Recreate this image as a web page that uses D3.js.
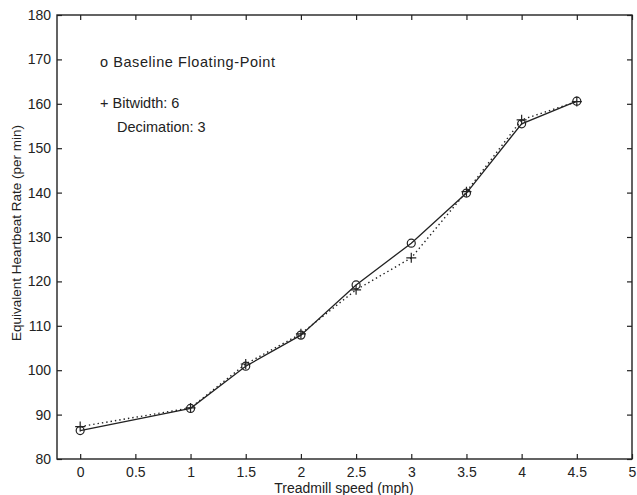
<!DOCTYPE html>
<html>
<head>
<meta charset="utf-8">
<script src="https://cdn.jsdelivr.net/npm/d3@7"></script>
<style>
  body { margin: 0; background: #fff; }
  text { font-family: "Liberation Sans", Arial, sans-serif; fill: #222; }
</style>
</head>
<body>
<svg id="chart"></svg>
<script>
// data
var speeds = [0, 1, 1.5, 2, 2.5, 3, 3.5, 4, 4.5];
var baseline = [86.4, 91.4, 100.9, 107.9, 119.2, 128.6, 139.9, 155.5, 160.6];
var bitwidth6 = [87.3, 91.5, 101.4, 108.2, 118.1, 125.3, 140.2, 156.4, 160.5];
var xTicks = [0, 0.5, 1, 1.5, 2, 2.5, 3, 3.5, 4, 4.5, 5];
var yTicks = [80, 90, 100, 110, 120, 130, 140, 150, 160, 170, 180];

var outerWidth = 637;
var outerHeight = 495;
var margin = { top: 15, left: 57, right: 5, bottom: 36 };
var width = outerWidth - margin.left - margin.right;
var height = outerHeight - margin.top - margin.bottom;
var ink = "#222";

var svg = d3.select("#chart").attr("width", outerWidth).attr("height", outerHeight);
var cg = svg.append("g").attr("transform", "translate(" + margin.left + "," + margin.top + ")");

var x = d3.scaleLinear().domain([-0.21, 5]).range([0, width]);
var y = d3.scaleLinear().domain([80, 180]).range([height, 0]);

// axes with inward ticks on all four sides
function styleAxis(g) {
  g.select(".domain").remove();
  g.selectAll("line").attr("stroke", ink).attr("stroke-width", 1.2);
  g.selectAll("text").style("font-size", "14px").attr("fill", ink);
}
cg.append("g").attr("transform", `translate(0,${height})`)
  .call(d3.axisBottom(x).tickValues(xTicks).tickSizeInner(-5).tickSizeOuter(0).tickPadding(8).tickFormat(d3.format("")))
  .call(styleAxis);
cg.append("g")
  .call(d3.axisTop(x).tickValues(xTicks).tickSizeInner(-5).tickSizeOuter(0).tickFormat(""))
  .call(styleAxis);
cg.append("g")
  .call(d3.axisLeft(y).tickValues(yTicks).tickSizeInner(-5).tickSizeOuter(0).tickPadding(6))
  .call(styleAxis);
cg.append("g").attr("transform", `translate(${width},0)`)
  .call(d3.axisRight(y).tickValues(yTicks).tickSizeInner(-5).tickSizeOuter(0).tickFormat(""))
  .call(styleAxis);

cg.append("rect")
  .attr("width", width).attr("height", height)
  .attr("fill", "none").attr("stroke", ink).attr("stroke-width", 1.4);

// axis labels
svg.append("text")
  .attr("x", 344).attr("y", 493)
  .attr("text-anchor", "middle").style("font-size", "14px")
  .text("Treadmill speed (mph)");
svg.append("text")
  .attr("transform", "translate(21,233) rotate(-90)")
  .attr("text-anchor", "middle").style("font-size", "13.5px")
  .text("Equivalent Heartbeat Rate (per min)");

var line = d3.line().x((d) => x(d[0])).y((d) => y(d[1]));
var basePts = speeds.map((s, i) => [s, baseline[i]]);
var bitPts = speeds.map((s, i) => [s, bitwidth6[i]]);

cg.append("path").datum(bitPts).attr("d", line)
  .attr("fill", "none").attr("stroke", ink).attr("stroke-width", 1.4)
  .attr("stroke-dasharray", "1.4,3");
cg.append("path").datum(basePts).attr("d", line)
  .attr("fill", "none").attr("stroke", ink).attr("stroke-width", 1.3);

cg.selectAll(".circ").data(basePts).enter().append("circle")
  .attr("cx", (d) => x(d[0])).attr("cy", (d) => y(d[1])).attr("r", 4)
  .attr("fill", "none").attr("stroke", ink).attr("stroke-width", 1.2);

cg.selectAll(".plus").data(bitPts).enter().append("path")
  .attr("transform", (d) => `translate(${x(d[0])},${y(d[1])})`)
  .attr("d", "M-5,0H5M0,-5V5")
  .attr("stroke", ink).attr("stroke-width", 1.2);

// legend inside plot
svg.append("text").attr("x", 100).attr("y", 67).style("font-size", "14.5px")
  .attr("textLength", 175)
  .text("o Baseline Floating-Point");
svg.append("text").attr("x", 100).attr("y", 108).style("font-size", "14.5px")
  .text("+ Bitwidth: 6");
svg.append("text").attr("x", 117).attr("y", 132).style("font-size", "14.5px")
  .text("Decimation: 3");
</script>
</body>
</html>
